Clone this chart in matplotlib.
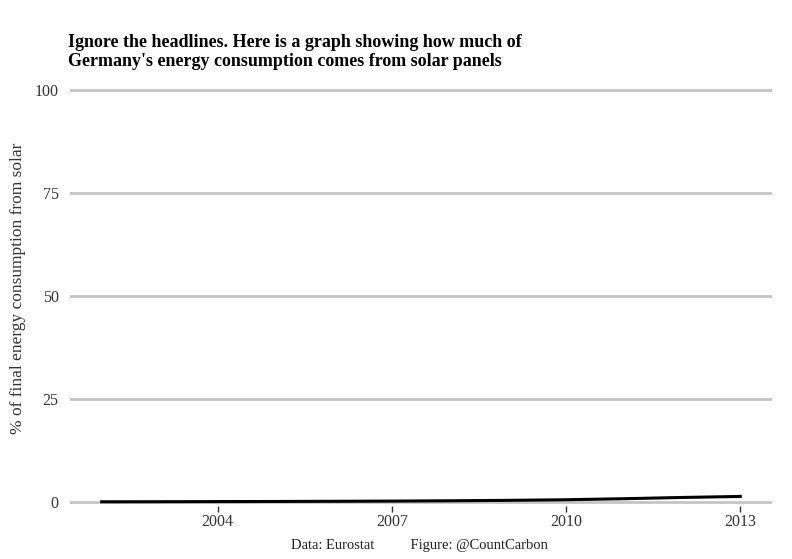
import matplotlib
matplotlib.use('Agg')
from matplotlib import pyplot as plt

# данные
years = [2002, 2003, 2004, 2005, 2006, 2007, 2008, 2009, 2010, 2011, 2012, 2013]
solar_pct = [0.05, 0.07, 0.1, 0.13, 0.17, 0.22, 0.3, 0.4, 0.55, 0.8, 1.1, 1.35]
x_ticks = [2004, 2007, 2010, 2013]
y_ticks = [0, 25, 50, 75, 100]

plt.rcParams['font.family'] = ['Liberation Serif', 'DejaVu Serif']

fig = plt.figure(figsize=(7.92, 5.59), dpi=100)
ax = fig.add_axes([0.088, 0.0946, 0.887, 0.781])

ax.plot(years, solar_pct, color='black', linewidth=2.2, zorder=3)

ax.set_xlim(2001.45, 2013.55)
ax.set_ylim(-1, 105)
ax.set_xticks(x_ticks)
ax.set_yticks(y_ticks)
ax.grid(axis='y', color='#c4c4c4', linewidth=2)
ax.set_axisbelow(True)
for s in ax.spines.values():
    s.set_visible(False)
ax.tick_params(axis='y', length=0, labelsize=11.5, colors='#333333', pad=8)
ax.tick_params(axis='x', length=4, width=1, color='#333333', labelsize=11.5, labelcolor='#333333', pad=2)

ax.set_ylabel('% of final energy consumption from solar', fontsize=12.5, color='#333333', labelpad=6)

fig.text(0.086, 0.875, "Ignore the headlines. Here is a graph showing how much of\n"
         "Germany's energy consumption comes from solar panels",
         fontsize=13, fontweight='bold', ha='left', va='bottom', linespacing=1.15)
fig.text(0.53, 0.025, 'Data: Eurostat          Figure: @CountCarbon', fontsize=10.5,
         color='#222222', ha='center', va='center')

plt.savefig('out.png', dpi=100)
